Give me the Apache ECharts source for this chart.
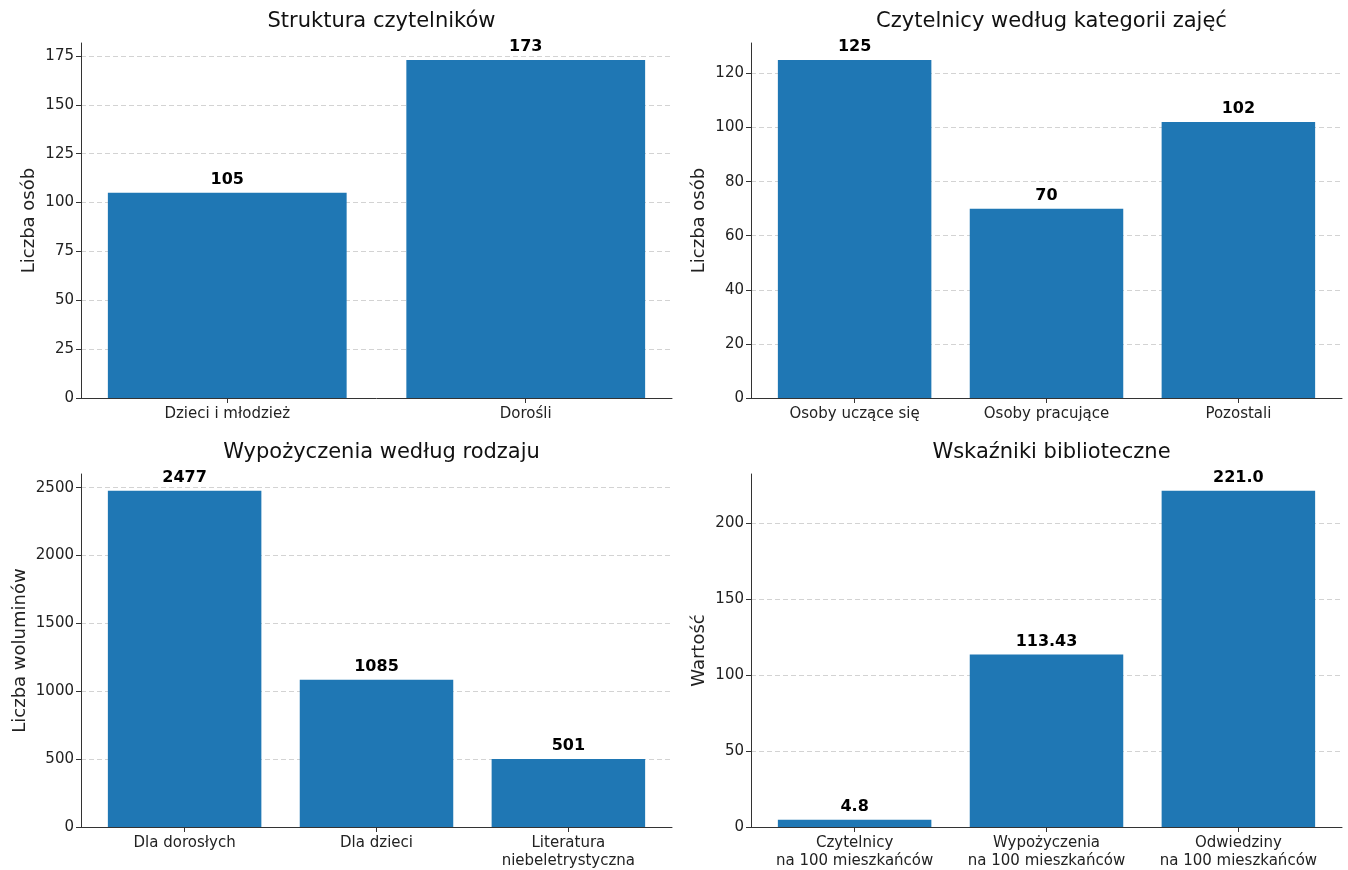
<!DOCTYPE html>
<html>
<head>
<meta charset="utf-8">
<script src="https://cdn.jsdelivr.net/npm/echarts@6/dist/echarts.min.js"></script>
<style>
html,body{margin:0;padding:0;background:#fff;}
#c{width:1348px;height:870px;}
</style>
</head>
<body>
<div id="c"></div>
<script>
// ---- data ----
const titles = ['Struktura czytelników', 'Czytelnicy według kategorii zajęć', 'Wypożyczenia według rodzaju', 'Wskaźniki biblioteczne'];
const yNames = ['Liczba osób', 'Liczba osób', 'Liczba woluminów', 'Wartość'];

const cat1 = ['Dzieci i młodzież', 'Dorośli'];
const val1 = [105, 173];
const lab1 = ['105', '173'];

const cat2 = ['Osoby uczące się', 'Osoby pracujące', 'Pozostali'];
const val2 = [125, 70, 102];
const lab2 = ['125', '70', '102'];

const cat3 = ['Dla dorosłych', 'Dla dzieci', 'Literatura\nniebeletrystyczna'];
const val3 = [2477, 1085, 501];
const lab3 = ['2477', '1085', '501'];

const cat4 = ['Czytelnicy\nna 100 mieszkańców', 'Wypożyczenia\nna 100 mieszkańców', 'Odwiedziny\nna 100 mieszkańców'];
const val4 = [4.8, 113.43, 221.0];
const lab4 = ['4.8', '113.43', '221.0'];

const yIntervals = [25, 20, 500, 50];

// ---- layout ----
const FONT = 'DejaVu Sans';
const grids = [
  {left: 81, top: 43, width: 591, height: 355},
  {left: 751, top: 43, width: 591, height: 355},
  {left: 81, top: 474, width: 591, height: 354},
  {left: 751, top: 474, width: 591, height: 354}
];
const cats = [cat1, cat2, cat3, cat4];
const vals = [val1, val2, val3, val4];
const labs = [lab1, lab2, lab3, lab4];
const nameGaps = [43, 43, 52, 43];

const axisColor = '#333';
const option = {
  animation: false,
  backgroundColor: '#fff',
  textStyle: {fontFamily: FONT},
  title: grids.map((g, i) => ({
    text: titles[i],
    left: g.left + g.width / 2,
    textAlign: 'center',
    top: g.top - 37,
    textStyle: {fontFamily: FONT, fontSize: 21, fontWeight: 'normal', color: '#111'}
  })),
  grid: grids.map(g => Object.assign({containLabel: false}, g)),
  xAxis: grids.map((g, i) => {
    const n = cats[i].length;
    const span = (n - 1) + 0.8;           // bar data limits
    const pad = span * 0.05;
    const idx = cats[i].map((c, k) => k);
    return {
      type: 'value',
      gridIndex: i,
      position: 'bottom',
      min: -0.4 - pad,
      max: (n - 1) + 0.4 + pad,
      splitLine: {show: false},
      axisLine: {show: true, onZero: false, lineStyle: {color: axisColor, width: 1}},
      axisTick: {show: true, length: 5, customValues: idx, lineStyle: {color: axisColor}},
      axisLabel: {fontFamily: FONT, fontSize: 15, color: '#222', margin: 7, lineHeight: 18,
        customValues: idx,
        formatter: v => cats[i][Math.round(v)] || ''}
    };
  }),
  yAxis: grids.map((g, i) => {
    const m = Math.max(...vals[i]) * 1.05;
    return {
      type: 'value',
      gridIndex: i,
      position: 'left',
      min: 0,
      max: m,
      interval: yIntervals[i],
      name: yNames[i],
      nameLocation: 'middle',
      nameGap: nameGaps[i],
      nameRotate: 90,
      nameTextStyle: {fontFamily: FONT, fontSize: 18, color: '#222'},
      axisLine: {show: true, onZero: false, lineStyle: {color: axisColor, width: 1}},
      axisTick: {show: true, length: 5, lineStyle: {color: axisColor}},
      axisLabel: {fontFamily: FONT, fontSize: 15, color: '#222', margin: 7, showMaxLabel: false,
        formatter: v => (Math.abs(v / yIntervals[i] - Math.round(v / yIntervals[i])) < 1e-6 ? String(v) : '')},
      splitLine: {show: true, showMaxLine: false, lineStyle: {color: '#c8c8c8', type: [5, 3], width: 0.8}}
    };
  }),
  series: grids.map((g, i) => {
    const n = cats[i].length;
    const span = (n - 1) + 0.8;
    const pxPerUnit = g.width / (span * 1.1);
    return {
      type: 'bar',
      xAxisIndex: i,
      yAxisIndex: i,
      data: vals[i].map((v, k) => [k, v]),
      barWidth: 0.8 * pxPerUnit,
      itemStyle: {color: '#1f77b4'},
      label: {
        show: true,
        position: 'top',
        distance: 5,
        fontFamily: FONT,
        fontSize: 16,
        fontWeight: 'bold',
        color: '#000',
        formatter: p => labs[i][p.dataIndex]
      }
    };
  })
};
const chart = echarts.init(document.getElementById('c'), null, {renderer: 'canvas'});
chart.setOption(option);
</script>
</body>
</html>
